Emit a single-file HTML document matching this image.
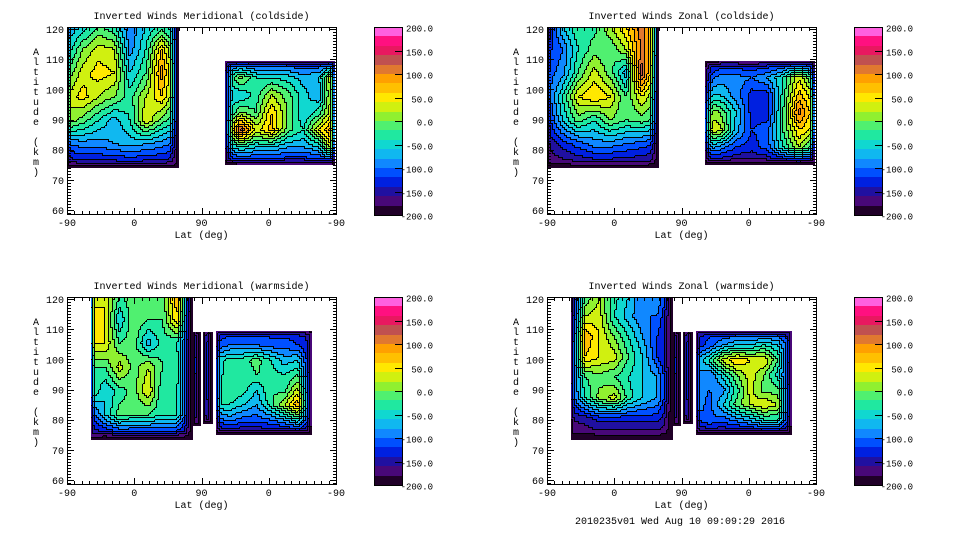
<!DOCTYPE html>
<html><head><meta charset="utf-8"><style>
body{margin:0;background:#fff;}
svg{display:block;font-family:"Liberation Mono",monospace;}
text{font-size:10px;fill:#000;}
text.cbl{font-size:9px;}
</style></head><body>
<svg id="c" width="960" height="540" viewBox="0 0 960 540" shape-rendering="crispEdges"></svg>
<script>
// ---- data: wind values (m/s) on coarse grids, rows top->bottom altitude, cols along track ----
const levelColors=["#200028","#480878","#2010a0","#0020e0","#0050ff","#1088ff","#10b8f0","#10d8d0","#20e8a0","#50f070","#90f030","#d0f010","#ffe800","#ffc000","#ffa000","#e07830","#c05050","#e81860","#ff1080","#ff60e0"];
const cbTickValues=[200,150,100,50,0,-50,-100,-150,-200];
const cbTickLabels=["200.0","150.0","100.0","50.0","0.0","-50.0","-100.0","-150.0","-200.0"];
const xTickLabels=["-90","0","90","0","-90"];
const yTickValues=[60,70,80,90,100,110,120];

const merColdLeft=[[-80,-60,-20,-40,-100,-60,-40,-60],[-60,0,30,20,-90,-40,60,-40],[-20,30,50,40,-60,-20,90,-20],[20,50,20,0,-30,20,60,-20],[20,-10,-40,-70,-40,40,-10,-40],[-100,-90,-90,-80,-70,-80,-90,-110],[-170,-160,-160,-160,-160,-160,-160,-170]];
const merColdRight=[[-140,-130,-130,-130,-130,-130,-130,-140],[-60,10,-40,-40,-50,-70,-60,60],[-60,-60,-30,20,-10,-50,-80,60],[-60,0,-20,60,0,-60,-30,50],[-60,130,30,70,-10,-40,40,100],[-80,-40,-60,-60,-80,-80,-60,60],[-160,-150,-150,-150,-150,-150,-150,-160]];
const zonColdLeft=[[-160,-60,-20,-30,20,60,110,40],[-130,-100,-40,-10,-20,20,110,40],[-110,-90,-20,30,-10,-70,130,0],[-120,-40,40,60,40,-20,40,-10],[-140,-60,-10,-40,0,-20,-10,-30],[-160,-130,-110,-90,-90,-100,-110,-120],[-180,-180,-170,-170,-170,-170,-170,-180]];
const zonColdRight=[[-160,-150,-150,-150,-150,-150,-150,-160],[-120,-90,-90,-100,-80,-40,40,-40],[-60,-60,-90,-130,-130,-30,70,20],[20,0,-60,-130,-130,-20,110,40],[40,30,-70,-120,-110,-20,60,30],[-60,-90,-120,-130,-110,-40,20,-40],[-170,-170,-170,-170,-170,-170,-170,-170]];
const merWarmLeft=[[30,40,-20,-10,0,-10,80,-150],[50,40,-60,0,-20,-20,60,-150],[40,40,-20,-10,-70,-30,-40,-150],[-20,-20,30,-10,20,-20,-30,-150],[-10,-60,-30,-10,40,-40,-40,-150],[-120,-60,-10,-20,-20,-40,-40,-150],[-160,-170,-160,-160,-160,-160,-160,-170]];
const merWarmRight=[[-140,-130,-130,-130,-130,-130,-130,-150],[-120,-100,-100,-100,-110,-110,-120,-150],[-60,-30,-30,-10,-40,-70,-60,-150],[-60,-20,-40,-20,-30,-40,-20,-150],[-60,-20,-30,-60,-20,-30,30,-150],[-40,-40,-60,-80,-30,20,80,-150],[-120,-90,-110,-110,-100,-80,-40,-150],[-170,-170,-170,-170,-170,-170,-170,-170]];
const zonWarmLeft=[[-180,-20,20,-30,-60,-100,-80,-150],[-170,20,30,-40,-70,-100,-100,-160],[-160,80,40,0,-40,-80,-120,-160],[-140,60,40,30,-20,-60,-120,-160],[-130,-20,-10,-20,-40,-60,-80,-160],[-120,-40,10,30,-30,-60,-80,-160],[-160,-150,-130,-130,-130,-130,-130,-170],[-180,-180,-180,-180,-180,-180,-180,-180]];
const zonWarmRight=[[-140,-130,-130,-130,-130,-130,-130,-150],[-140,-110,-80,-60,-60,-40,-60,-130],[-80,-40,30,60,40,40,-20,-150],[-80,-100,-50,0,30,0,-50,-150],[-80,-100,-90,-30,30,-10,-10,-150],[-80,-110,-60,-10,20,40,20,-150],[-120,-100,-110,-90,-70,-40,-40,-150],[-170,-170,-170,-170,-170,-170,-170,-170]];
const blobA=[[-190,-150,-190],[-180,-130,-180],[-180,-140,-180],[-190,-160,-190]];
const blobB=[[-190,-140,-190],[-180,-120,-180],[-180,-130,-180],[-190,-150,-190]];

const titles=["Inverted Winds Meridional (coldside)","Inverted Winds Zonal (coldside)","Inverted Winds Meridional (warmside)","Inverted Winds Zonal (warmside)"];
const panelNames=["meridional-coldside","zonal-coldside","meridional-warmside","zonal-warmside"];
const panelX=[67,547,67,547], panelY=[27,27,297,297];
const FW=269, FH=187;
// rim = fade widths in px [top,right,bottom,left] (0 = none)
const coldBlocks=(L,R)=>[
 {g:L,p1:0,p2:148,aT:121,aB:74,rim:[0,8,8,4]},
 {g:R,p1:211,p2:358,aT:109.5,aB:75,rim:[7,5,7,8]}];
const warmBlocks=(L,R)=>[
 {g:L,p1:32,p2:167,aT:121,aB:73.5,rim:[0,8,8,4]},
 {g:blobA,p1:169,p2:178,aT:109,aB:78,rim:[4,3,4,3]},
 {g:blobB,p1:182,p2:194,aT:109,aB:79,rim:[4,3,4,3]},
 {g:R,p1:200,p2:328,aT:109.5,aB:75,rim:[7,5,7,5]}];
const panelBlocks=[coldBlocks(merColdLeft,merColdRight),coldBlocks(zonColdLeft,zonColdRight),warmBlocks(merWarmLeft,merWarmRight),warmBlocks(zonWarmLeft,zonWarmRight)];

const NS="http://www.w3.org/2000/svg";
const svg=document.getElementById('c');
function mk(tag,attrs,parent,txt){const e=document.createElementNS(NS,tag);for(const k in attrs)e.setAttribute(k,attrs[k]);if(txt!==undefined)e.textContent=txt;(parent||svg).appendChild(e);return e;}
function band(v){let b=Math.floor((v+200)/20);return Math.max(0,Math.min(19,b));}

panelNames.forEach((nm,i)=>{
 const fx=panelX[i], fy=panelY[i];
 const xs=p=>fx+p*FW/360;
 const ys=a=>fy+2+(120-a)*181/60;
 const g=mk('g',{},svg);
 
 
 const t=mk('text',{x:fx+FW/2,y:fy-8,'text-anchor':'middle'},g,titles[i]);
 
 
 const field=mk('g',{},g);
 
 
 const C=2;
 panelBlocks[i].forEach(b=>{
  const x1=Math.round(xs(b.p1)),x2=Math.round(xs(b.p2));
  const yT=ys(b.aT);
  const y1=Math.max(fy+1,Math.round(yT)),y2=Math.round(ys(b.aB));
  const rows=b.g.length,cols=b.g[0].length;
  const nx=Math.ceil((x2-x1)/C),ny=Math.ceil((y2-y1)/C);
  const B=[];
  for(let j=0;j<ny;j++){B.push([]);for(let k=0;k<nx;k++){
   const cx=x1+k*C+1, cy=y1+j*C+1;
   const u=Math.min(cols-1,Math.max(0,(cx-x1)/(x2-x1)*(cols-1)));
   const w=Math.min(rows-1,Math.max(0,(cy-yT)/(y2-yT)*(rows-1)));
   const u0=Math.min(cols-2,Math.floor(u)),w0=Math.min(rows-2,Math.floor(w));
   const fu=u-u0,fw=w-w0;
   let v=b.g[w0][u0]*(1-fu)*(1-fw)+b.g[w0][u0+1]*fu*(1-fw)+b.g[w0+1][u0]*(1-fu)*fw+b.g[w0+1][u0+1]*fu*fw;
   const d=[cy-y1,x2-cx,y2-cy,cx-x1];
   let f=1;
   for(let s=0;s<4;s++){if(b.rim[s]>0)f=Math.min(f,Math.max(0,d[s])/b.rim[s]);}
   v=-200+(v+200)*Math.sqrt(f);
   B[j].push(band(v));
  }}
  for(let j=0;j<ny;j++){let k=0;while(k<nx){let e=k;while(e+1<nx&&B[j][e+1]===B[j][k])e++;
   const r=mk('rect',{x:x1+k*C,y:y1+j*C,width:(e-k+1)*C,height:C,fill:levelColors[B[j][k]]},field);
   
   
   k=e+1;}}
  let dpath='';
  for(let j=0;j<ny;j++)for(let k=0;k<nx;k++){
   if(k+1<nx&&B[j][k+1]!==B[j][k])dpath+=`M${x1+k*C+C-0.5},${y1+j*C}v${C}`;
   if(j+1<ny&&B[j+1][k]!==B[j][k])dpath+=`M${x1+k*C},${y1+j*C+C-0.5}h${C}`;
  }
  const cl=mk('path',{d:dpath,stroke:'#000','stroke-width':1,fill:'none'},field);
  
  
 });
 const fr=mk('rect',{x:fx+0.5,y:fy+0.5,width:FW,height:FH,fill:'none',stroke:'#000'},g);
 
 
 let tk='';
 for(let p=0;p<=360;p+=10){const x=Math.round(xs(p))+0.5;const L=(p%90===0)?6:3;tk+=`M${x},${fy+FH}v${-L}M${x},${fy+1}v${L}`;}
 for(let a=59;a<=120;a++){const y=Math.round(ys(a))+0.5;const L=(a%10===0)?6:3;tk+=`M${fx+1},${y}h${L}M${fx+FW},${y}h${-L}`;}
 const ti=mk('path',{d:tk,stroke:'#000','stroke-width':1,fill:'none'},g);
 
 
 xTickLabels.forEach((s,q)=>{const e=mk('text',{x:xs(q*90),y:fy+FH+12,'text-anchor':'middle'},g,s);
  
  });
 yTickValues.forEach(a=>{const e=mk('text',{x:fx-3,y:ys(a)+4,'text-anchor':'end'},g,String(a));
  
  });
 const xl=mk('text',{x:fx+FW/2,y:fy+FH+24,'text-anchor':'middle'},g,'Lat (deg)');
 
 
 const yl=mk('g',{},g);
 
 
 'Altitude (km)'.split('').forEach((ch,q)=>{if(ch===' ')return;const e=mk('text',{x:fx-31,y:fy+28+q*10,'text-anchor':'middle'},yl,ch);
  
  });
 const cbx=fx+307, cby=fy, cbh=188, cbw=28;
 const cb=mk('g',{},g);
 
 
 const vy=v=>cby+(200-v)*cbh/400;
 levelColors.forEach((col,q)=>{const lo=-200+q*20;const r=mk('rect',{x:cbx,y:Math.round(vy(lo+20)),width:cbw,height:Math.round(vy(lo))-Math.round(vy(lo+20)),fill:col},cb);
  
  });
 const cbf=mk('rect',{x:cbx+0.5,y:cby+0.5,width:cbw,height:cbh,fill:'none',stroke:'#000'},cb);
 
 
 let ct='';
 cbTickValues.forEach((v,q)=>{const y=Math.round(vy(v))+0.5;ct+=`M${cbx+cbw-7},${y}h7`;
  const e=mk('text',{x:cbx+cbw+31,y:y+4,'text-anchor':'end','class':'cbl'},cb,cbTickLabels[q]);
  
  });
 const cti=mk('path',{d:ct,stroke:'#000',fill:'none'},cb);
 
 
});
const ft=mk('text',{x:680,y:524,'text-anchor':'middle'},svg,'2010235v01 Wed Aug 10 09:09:29 2016');


</script>
</body></html>
